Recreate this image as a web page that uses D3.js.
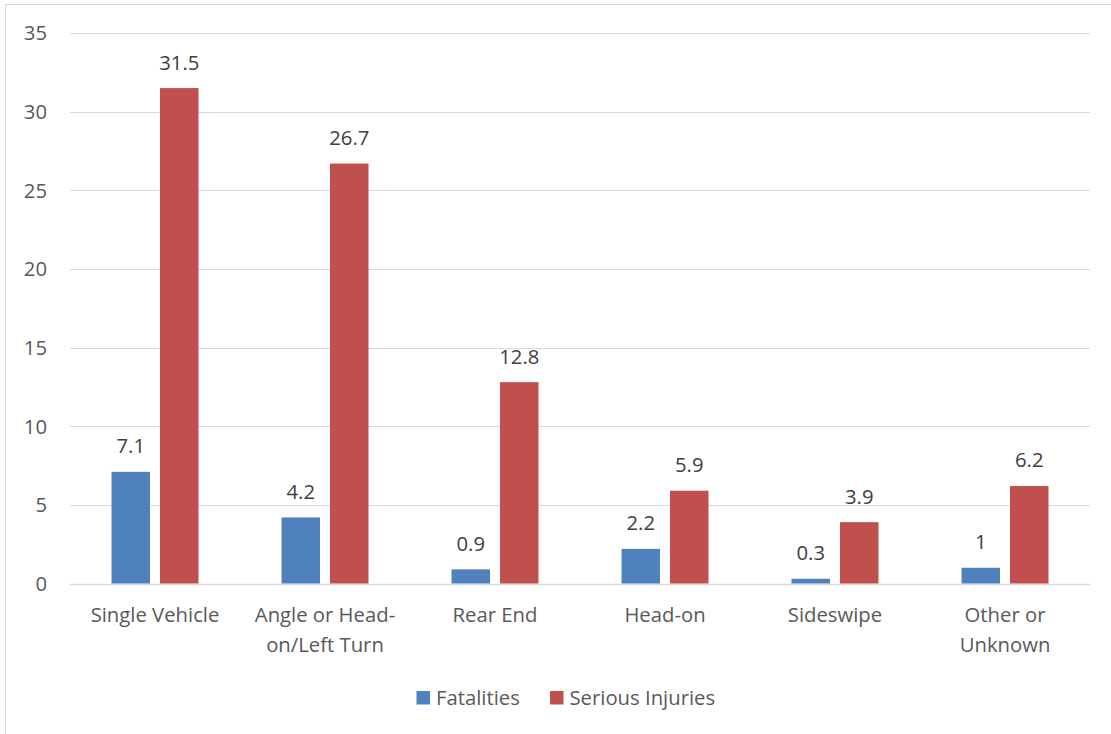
<!DOCTYPE html>
<html>
<head>
<meta charset="utf-8">
<script src="https://cdn.jsdelivr.net/npm/d3@7"></script>
<style>
  html, body { margin: 0; padding: 0; background: #fff; }
  svg { display: block; }
  text { font-family: "Open Sans", "Noto Sans", "Liberation Sans", sans-serif; }
</style>
</head>
<body>
<svg id="chart" width="1111" height="734"></svg>
<script>
// Crash types and rates per series
const categories = [
  ["Single Vehicle"],
  ["Angle or Head-", "on/Left Turn"],
  ["Rear End"],
  ["Head-on"],
  ["Sideswipe"],
  ["Other or", "Unknown"]
];
const seriesNames = ["Fatalities", "Serious Injuries"];
const fatalities = [7.1, 4.2, 0.9, 2.2, 0.3, 1];
const seriousInjuries = [31.5, 26.7, 12.8, 5.9, 3.9, 6.2];
const yTicks = [0, 5, 10, 15, 20, 25, 30, 35];
const colors = ["#4f81bd", "#c0504d"];

const svg = d3.select("#chart");
const W = 1111, H = 734;
const plotLeft = 70, plotRight = 1090, plotTop = 33, plotBottom = 583.5;
const fontSize = 20.3;

// Outer chart frame
svg.append("rect")
  .attr("x", 5.5).attr("y", 4.5)
  .attr("width", W + 10).attr("height", H + 10)
  .attr("fill", "#fff").attr("stroke", "#d9d9d9").attr("stroke-width", 1);

const x = d3.scaleBand()
  .domain(d3.range(categories.length))
  .range([plotLeft, plotRight])
  .paddingInner(0).paddingOuter(0);

const y = d3.scaleLinear().domain([0, 35]).range([plotBottom, plotTop]);

// Gridlines
svg.append("g")
  .selectAll("line")
  .data(yTicks)
  .join("line")
  .attr("x1", plotLeft).attr("x2", plotRight)
  .attr("y1", d => Math.round(y(d)) + 0.5)
  .attr("y2", d => Math.round(y(d)) + 0.5)
  .attr("stroke", "#d9d9d9")
  .attr("stroke-width", d => d === 0 ? 1.5 : 1.2);

// Y axis tick labels
svg.append("g")
  .selectAll("text")
  .data(yTicks)
  .join("text")
  .attr("x", 47)
  .attr("y", d => y(d))
  .attr("dy", "0.36em")
  .attr("text-anchor", "end")
  .attr("fill", "#595959")
  .attr("font-size", fontSize)
  .text(d => d);

// Series within each category
const barW = 38.5, gap = 10;
const inner = d3.scaleBand()
  .domain([0, 1])
  .range([-(barW + gap / 2), barW + gap / 2])
  .paddingInner(gap / (barW + gap))
  .paddingOuter(0);

const series = [fatalities, seriousInjuries];
const groups = svg.append("g");
series.forEach((vals, s) => {
  const g = groups.append("g");
  g.selectAll("rect")
    .data(vals)
    .join("rect")
    .attr("x", (d, i) => x(i) + x.bandwidth() / 2 + inner(s))
    .attr("width", inner.bandwidth())
    .attr("y", d => y(d))
    .attr("height", d => y(0) - y(d))
    .attr("fill", colors[s]);
  g.selectAll("text")
    .data(vals)
    .join("text")
    .attr("x", (d, i) => x(i) + x.bandwidth() / 2 + inner(s) + inner.bandwidth() / 2)
    .attr("y", d => y(d) - 18.5)
    .attr("text-anchor", "middle")
    .attr("fill", "#404040")
    .attr("font-size", fontSize)
    .text(d => d);
});

// Category labels
const catG = svg.append("g");
categories.forEach((lines, i) => {
  const t = catG.append("text")
    .attr("x", x(i) + x.bandwidth() / 2)
    .attr("y", 622)
    .attr("text-anchor", "middle")
    .attr("fill", "#595959")
    .attr("font-size", fontSize);
  lines.forEach((ln, k) => {
    t.append("tspan")
      .attr("x", x(i) + x.bandwidth() / 2)
      .attr("dy", k === 0 ? 0 : 29.5)
      .text(ln);
  });
});

// Legend
const legend = svg.append("g");
const legendItems = [
  { name: seriesNames[0], color: colors[0], x: 416.5 },
  { name: seriesNames[1], color: colors[1], x: 550 }
];
legendItems.forEach(it => {
  legend.append("rect")
    .attr("x", it.x).attr("y", 691)
    .attr("width", 13.5).attr("height", 13.5)
    .attr("fill", it.color);
  legend.append("text")
    .attr("x", it.x + 19.5).attr("y", 704.5)
    .attr("fill", "#595959")
    .attr("font-size", fontSize)
    .text(it.name);
});
</script>
</body>
</html>
